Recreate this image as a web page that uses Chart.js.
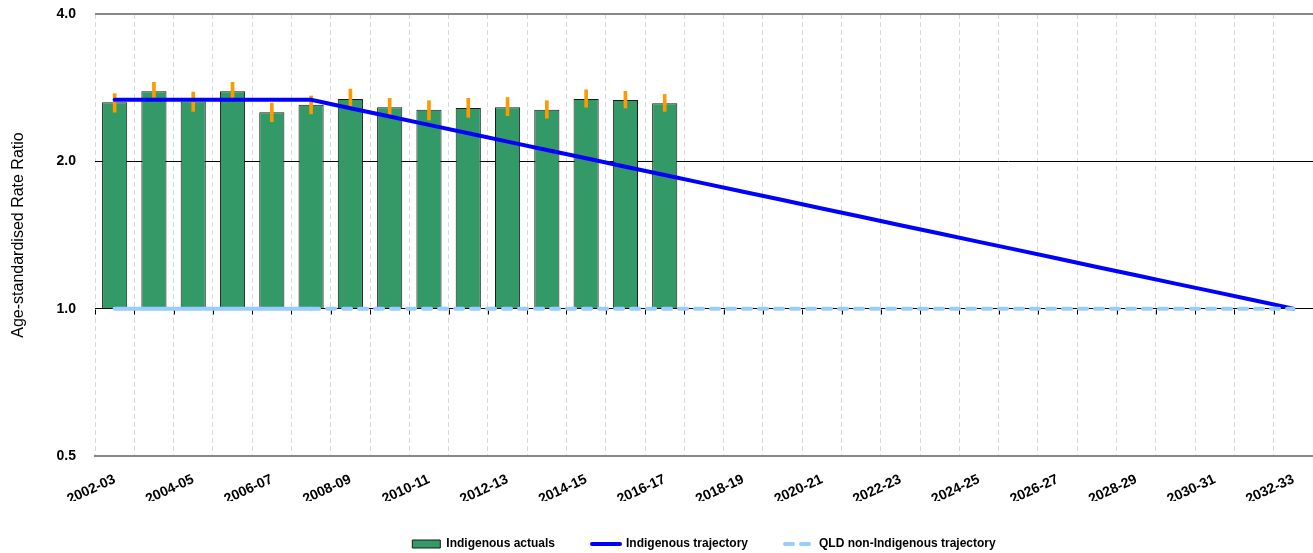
<!DOCTYPE html>
<html lang="en">
<head>
<meta charset="UTF-8">
<title>Age-standardised Rate Ratio</title>
<script src="https://cdn.jsdelivr.net/npm/chart.js@4.4.1/dist/chart.umd.min.js"></script>
<style>
    html, body { margin: 0; padding: 0; background: #fff; }
    .grafico { position: relative; width: 1313px; height: 553px; }
</style>
</head>
<body>
<div class="grafico"><canvas id="chart_ratio"></canvas></div>

<script>
    var years = ['2002-03', '2003-04', '2004-05', '2005-06', '2006-07', '2007-08', '2008-09', '2009-10',
        '2010-11', '2011-12', '2012-13', '2013-14', '2014-15', '2015-16', '2016-17', '2017-18',
        '2018-19', '2019-20', '2020-21', '2021-22', '2022-23', '2023-24', '2024-25', '2025-26',
        '2026-27', '2027-28', '2028-29', '2029-30', '2030-31', '2031-32', '2032-33'];

    // actuals (2002-03 .. 2016-17) with their confidence range
    var actuals = [2.64, 2.78, 2.65, 2.78, 2.52, 2.61, 2.68, 2.58, 2.55, 2.57, 2.58, 2.55, 2.68, 2.67, 2.63];
    var actualsLow = [2.52, 2.70, 2.53, 2.70, 2.41, 2.50, 2.59, 2.49, 2.43, 2.46, 2.48, 2.45, 2.58, 2.57, 2.53];
    var actualsHigh = [2.75, 2.90, 2.77, 2.90, 2.63, 2.72, 2.81, 2.69, 2.66, 2.69, 2.70, 2.66, 2.80, 2.78, 2.74];

    var trajectory = [2.671, 2.671, 2.671, 2.671, 2.671, 2.671, 2.568, 2.469, 2.374, 2.282, 2.194, 2.110,
        2.029, 1.950, 1.875, 1.803, 1.734, 1.667, 1.602, 1.541, 1.481, 1.424, 1.369, 1.317, 1.266, 1.217,
        1.170, 1.125, 1.082, 1.040, 1.000];
    var nonIndigenous = [1, 1, 1, 1, 1, 1, 1, 1, 1, 1, 1, 1, 1, 1, 1, 1, 1, 1, 1, 1, 1, 1, 1, 1, 1, 1, 1, 1, 1, 1, 1];

    var yTicks = [0.5, 1, 2, 4];

    var errorRanges = actualsLow.map(function (lo, i) { return [lo, actualsHigh[i]]; });

    Chart.defaults.font.family = "'Liberation Sans', Arial, sans-serif";
    Chart.defaults.color = '#000';

    // small tick marks hanging under the 1.0 line
    var ratioTicks = {
        id: 'ratioTicks',
        beforeDatasetsDraw: function (chart) {
            var ctx = chart.ctx;
            var x = chart.scales.x;
            var yPix = Math.round(chart.scales.y.getPixelForValue(1)) + 0.5;
            ctx.save();
            ctx.strokeStyle = '#000';
            ctx.lineWidth = 1;
            ctx.beginPath();
            for (var i = 0; i <= years.length; i++) {
                var px = Math.round(x.getPixelForValue(i - 0.5)) + 0.5;
                ctx.moveTo(px, yPix);
                ctx.lineTo(px, yPix + 5);
            }
            ctx.stroke();
            ctx.restore();
        }
    };

    var config_ratio = {
        type: 'bar',
        data: {
            labels: years,
            datasets: [{
                type: 'bar',
                label: 'Indigenous actuals',
                data: actuals,
                base: 1,
                backgroundColor: '#339966',
                borderColor: '#1a1a1a',
                borderWidth: 1,
                categoryPercentage: 0.64,
                barPercentage: 1,
                grouped: false,
                order: 4
            }, {
                type: 'line',
                label: 'Indigenous trajectory',
                data: trajectory,
                borderColor: '#0000ff',
                backgroundColor: '#0000ff',
                borderWidth: 4,
                borderCapStyle: 'round',
                pointRadius: 0,
                tension: 0,
                order: 1
            }, {
                type: 'line',
                label: 'QLD non-Indigenous trajectory',
                data: nonIndigenous,
                borderColor: '#99ccff',
                backgroundColor: '#99ccff',
                borderWidth: 4,
                borderDash: [8, 8],
                borderCapStyle: 'round',
                segment: {
                    borderDash: function (ctx) { return ctx.p0DataIndex < 5 ? [] : undefined; }
                },
                pointRadius: 0,
                order: 0
            }, {
                type: 'bar',
                label: 'range',
                data: errorRanges,
                backgroundColor: '#ff9900',
                borderWidth: 0,
                barThickness: 3,
                grouped: false,
                order: 2
            }]
        },
        options: {
            responsive: true,
            maintainAspectRatio: false,
            animation: false,
            events: [],
            layout: { padding: { top: 14, right: 0, left: 0, bottom: -7 } },
            scales: {
                x: {
                    afterFit: function (scale) { scale.height = 45; },
                    ticks: {
                        autoSkip: false,
                        minRotation: 25,
                        maxRotation: 25,
                        padding: 3,
                        color: '#000',
                        font: { size: 14, weight: 'bold' },
                        callback: function (v, i) { return i % 2 === 0 ? years[i] : ''; }
                    },
                    grid: { offset: true, color: '#d9d9d9', drawTicks: true, tickLength: 12, tickColor: 'rgba(0,0,0,0)' },
                    border: { color: '#888', width: 2, dash: [5, 3] }
                },
                y: {
                    type: 'logarithmic',
                    min: 0.5,
                    max: 4,
                    afterBuildTicks: function (scale) {
                        scale.ticks = yTicks.map(function (v) { return { value: v }; });
                    },
                    afterFit: function (scale) { scale.width = 95; },
                    ticks: {
                        padding: 3,
                        color: '#000',
                        font: { size: 14, weight: 'bold' },
                        callback: function (v) { return Number(v).toFixed(1); }
                    },
                    grid: {
                        drawTicks: true,
                        tickLength: 16,
                        tickColor: 'rgba(0,0,0,0)',
                        color: function (c) {
                            return c.tick && (c.tick.value === 4 || c.tick.value === 0.5) ? '#888' : '#000';
                        },
                        lineWidth: function (c) { return c.tick && c.tick.value === 4 ? 2 : 1; }
                    },
                    border: { display: false },
                    title: {
                        display: true,
                        text: 'Age-standardised Rate Ratio',
                        color: '#000',
                        font: { size: 16 },
                        padding: { top: 9, bottom: 0 }
                    }
                }
            },
            plugins: {
                tooltip: { enabled: false },
                legend: {
                    position: 'bottom',
                    fullSize: false,
                    labels: {
                        usePointStyle: true,
                        pointStyleWidth: 28,
                        boxHeight: 8,
                        padding: 37,
                        color: '#000',
                        font: { size: 12, weight: 'bold' },
                        generateLabels: function (chart) {
                            var items = Chart.defaults.plugins.legend.labels.generateLabels(chart);
                            items.forEach(function (item) {
                                var ds = chart.data.datasets[item.datasetIndex];
                                if (ds.type === 'line') {
                                    item.pointStyle = 'line';
                                    item.lineWidth = ds.borderWidth;
                                    item.lineDash = ds.borderDash || [];
                                    item.lineCap = 'round';
                                    item.strokeStyle = ds.borderColor;
                                } else {
                                    item.pointStyle = 'rect';
                                }
                            });
                            return items;
                        },
                        filter: function (item) { return item.datasetIndex !== 3; },
                        sort: function (a, b) { return a.datasetIndex - b.datasetIndex; }
                    }
                }
            }
        },
        plugins: [ratioTicks]
    };

    var chart_ratio = new Chart(document.getElementById('chart_ratio'), config_ratio);
</script>
</body>
</html>
